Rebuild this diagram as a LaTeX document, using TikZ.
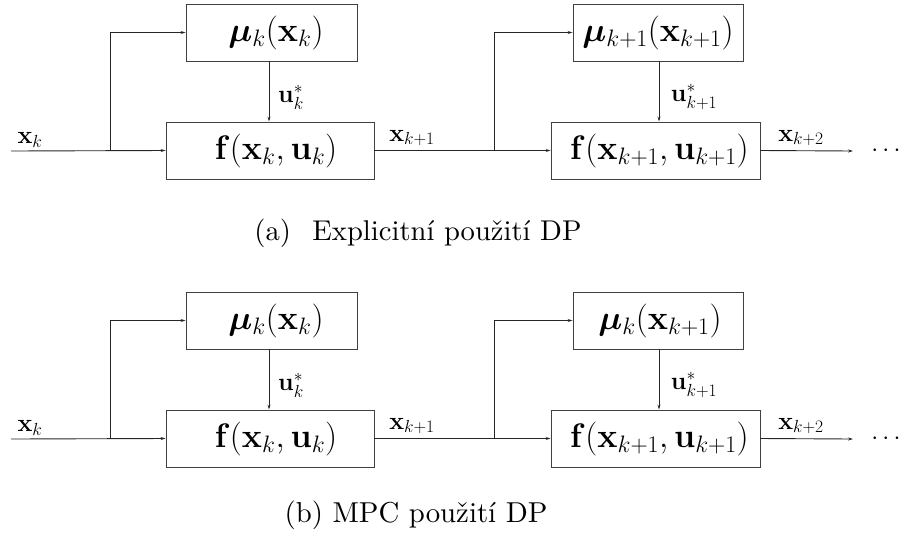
\RequirePackage{fix-cm}
\documentclass[tikz,border=0pt]{standalone}
\usepackage{amsmath,bm,graphicx}
\usetikzlibrary{arrows.meta}
\newcommand{\cpa}[1]{\scalebox{2.86}{#1}}
\newcommand{\cpb}[1]{\scalebox{2.88}{#1}}
\begin{document}
\begin{tikzpicture}[x=1pt,y=-1pt,
  blk/.style={draw=black!75,line width=0.9pt,rectangle,inner sep=0pt,minimum height=57pt,font=\fontsize{34}{40}\selectfont},
  con/.style={draw=black!85,line width=0.9pt},
  arr/.style={con,-{Stealth[length=5pt,width=3pt]}},
  lab/.style={inner sep=0pt,font=\fontsize{25}{30}\selectfont},
  captxt/.style={inner sep=0pt,anchor=base}]
\useasboundingbox (0,0) rectangle (904,539);
% ---------- (a) ----------
\node[blk,minimum width=171pt] (amu1) at (271.5,32.5) {\hspace*{9pt}$\bm{\mu}_k(\mathbf{x}_k)$};
\node[blk,minimum width=208pt] (af1) at (270,150.5) {\hspace*{12pt}$\mathbf{f}(\mathbf{x}_k,\mathbf{u}_k)$};
\node[blk,minimum width=170pt] (amu2) at (658,32.5) {$\bm{\mu}_{k+1}(\mathbf{x}_{k+1})$};
\node[blk,minimum width=209pt] (af2) at (655.5,150.5) {\hspace*{8pt}$\mathbf{f}(\mathbf{x}_{k+1},\mathbf{u}_{k+1})$};
\coordinate (ain) at (11,151);
\coordinate (ab1) at (110,151);
\coordinate (ab2) at (494,151);
\coordinate (aout) at (853,151);
\node[lab] (adots) at (888,151) {$\cdots$};
\draw[arr] (ain) -- (af1.west);
\draw[arr] (ab1) |- (amu1.west);
\draw[arr] (amu1.south -| 269,0) -- (af1.north -| 269,0);
\draw[arr] (af1.east) -- (af2.west);
\draw[arr] (ab2) |- (amu2.west);
\draw[arr] (amu2.south -| 659,0) -- (af2.north -| 659,0);
\draw[arr] (af2.east) -- (aout);
\node[lab] (axk) at (30,140) {$\mathbf{x}_k$};
\node[lab] (axk1) at (412,138) {$\mathbf{x}_{k+1}$};
\node[lab] (axk2) at (801,138) {$\mathbf{x}_{k+2}$};
\node[lab] (auk) at (291,97) {$\mathbf{u}_k^*$};
\node[lab] (auk1) at (694,97) {$\mathbf{u}_{k+1}^*$};
\node[captxt] (acap) at (418,240) {\cpa{(a)\hspace{0.75em}Explicitní použití DP}};
% ---------- (b) ----------
\begin{scope}[shift={(0,288)}]
\node[blk,minimum width=171pt] (bmu1) at (271.5,32.5) {\hspace*{9pt}$\bm{\mu}_k(\mathbf{x}_k)$};
\node[blk,minimum width=208pt] (bf1) at (270,150.5) {\hspace*{12pt}$\mathbf{f}(\mathbf{x}_k,\mathbf{u}_k)$};
\node[blk,minimum width=170pt] (bmu2) at (658,32.5) {\hspace*{4pt}$\bm{\mu}_{k}(\mathbf{x}_{k+1})$};
\node[blk,minimum width=209pt] (bf2) at (655.5,150.5) {\hspace*{8pt}$\mathbf{f}(\mathbf{x}_{k+1},\mathbf{u}_{k+1})$};
\coordinate (bin) at (11,151);
\coordinate (bb1) at (110,151);
\coordinate (bb2) at (494,151);
\coordinate (bout) at (853,151);
\node[lab] (bdots) at (888,151) {$\cdots$};
\draw[arr] (bin) -- (bf1.west);
\draw[arr] (bb1) |- (bmu1.west);
\draw[arr] (bmu1.south -| 269,0) -- (bf1.north -| 269,0);
\draw[arr] (bf1.east) -- (bf2.west);
\draw[arr] (bb2) |- (bmu2.west);
\draw[arr] (bmu2.south -| 659,0) -- (bf2.north -| 659,0);
\draw[arr] (bf2.east) -- (bout);
\node[lab] (bxk) at (30,140) {$\mathbf{x}_k$};
\node[lab] (bxk1) at (412,138) {$\mathbf{x}_{k+1}$};
\node[lab] (bxk2) at (801,138) {$\mathbf{x}_{k+2}$};
\node[lab] (buk) at (291,97) {$\mathbf{u}_k^*$};
\node[lab] (buk1) at (694,97) {$\mathbf{u}_{k+1}^*$};
\end{scope}
\node[captxt] (bcap) at (416,522) {\cpb{(b) MPC použití DP}};
\end{tikzpicture}
\end{document}
